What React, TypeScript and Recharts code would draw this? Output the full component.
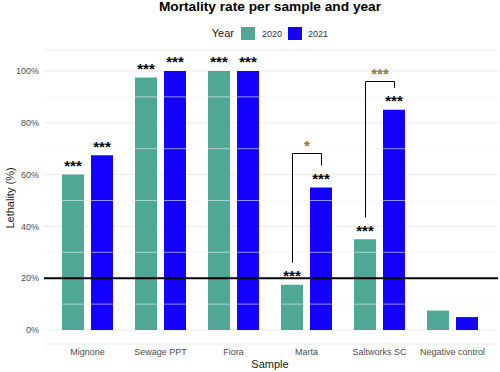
import React from "react"
import { BarChart, Bar, XAxis, YAxis, CartesianGrid, ReferenceLine, LabelList } from "recharts"

const samples = ["Mignone", "Sewage PPT", "Fiora", "Marta", "Saltworks SC", "Negative control"]
const rate2020 = [60, 97.5, 100, 17.5, 35, 7.5]
const rate2021 = [67.5, 100, 100, 55, 85, 5]
const sig2020 = ["***", "***", "***", "***", "***", ""]
const sig2021 = ["***", "***", "***", "***", "***", ""]
// comparison 2020 vs 2021 within a sample
const bracketSig = ["", "", "", "*", "***", ""]
const bracketTop: (number | null)[] = [null, null, null, 68.3, 96.1, null]
const yTicks = [0, 20, 40, 60, 80, 100]
const minorTicks = [10, 30, 50, 70, 90]

const GREEN = "#4fa896"
const BLUE = "#1400ff"
const GOLD = "#8f7a3a"
const BAR_SIZE = 22
const BAR_GAP = 7
const LEG_PAD = 8.5

const data = samples.map((s, i) => ({ sample: s, y2020: rate2020[i], y2021: rate2021[i] }))

function starLabel(stars: string[]) {
  return (props: any) => {
    const { x, y, width, index } = props
    const s = stars[index]
    if (!s) return null
    return (
      <text x={Number(x) + Number(width) / 2} y={Number(y) - 3.5} textAnchor="middle" fontSize={15} fontWeight="bold" fill="#000">
        {s}
      </text>
    )
  }
}

function BracketLabel(props: any) {
  const { index } = props
  const top = bracketTop[index]
  if (top == null) return null
  const x = Number(props.x)
  const y = Number(props.y)
  const width = Number(props.width)
  const height = Number(props.height)
  const base = y + height
  const k = height / rate2020[index]
  const py = (v: number) => base - v * k
  const x1 = Math.round(x + width / 2) + 0.5
  const x2 = Math.round(x + width + BAR_GAP + width / 2) + 0.5
  const yTop = Math.round(py(top)) + 0.5
  const d = `M${x1},${py(rate2020[index] + LEG_PAD)}V${yTop}H${x2}V${py(rate2021[index] + LEG_PAD)}`
  return (
    <g>
      <path d={d} fill="none" stroke="#000" strokeWidth={1} />
      <text x={(x1 + x2) / 2} y={yTop - 2.5} textAnchor="middle" fontSize={15} fontWeight="bold" fill={GOLD}>
        {bracketSig[index]}
      </text>
    </g>
  )
}

export default function App() {
  const font = "'Liberation Sans', Arial, sans-serif"
  return (
    <div style={{ position: "relative", width: 500, height: 372, fontFamily: font }}>
      <style>{`body{margin:0}`}</style>
      <BarChart
        width={500}
        height={372}
        data={data}
        margin={{ top: 50, right: 2, bottom: 0, left: 0 }}
        barSize={BAR_SIZE}
        barGap={BAR_GAP}
      >
        <CartesianGrid vertical={false} stroke="#e6e6e6" strokeWidth={0.8} />
        {minorTicks.map((t) => (
          <ReferenceLine key={t} y={t} stroke="#f2f2f2" strokeWidth={0.6} />
        ))}
        <XAxis
          dataKey="sample"
          axisLine={false}
          tickLine={false}
          tickSize={0}
          tickMargin={5}
          height={28}
          padding={{ left: 7, right: 9 }}
          tick={{ fontSize: 9, fill: "#4d4d4d", fontFamily: font }}
          interval={0}
        />
        <YAxis
          domain={[-5.4, 108.1]}
          ticks={yTicks}
          tickFormatter={(v: number) => `${v}%`}
          axisLine={false}
          tickLine={false}
          tickSize={0}
          tickMargin={5}
          width={44}
          tick={{ fontSize: 9, fill: "#4d4d4d", fontFamily: font }}
        />
        <ReferenceLine y={20} stroke="#000" strokeWidth={2} />
        <Bar dataKey="y2020" fill={GREEN} isAnimationActive={false}>
          <LabelList dataKey="y2020" content={starLabel(sig2020)} />
          <LabelList dataKey="y2020" content={BracketLabel} />
        </Bar>
        <Bar dataKey="y2021" fill={BLUE} isAnimationActive={false}>
          <LabelList dataKey="y2021" content={starLabel(sig2021)} />
        </Bar>
      </BarChart>
      <svg width={500} height={372} style={{ position: "absolute", left: 0, top: 0, pointerEvents: "none" }} fontFamily={font}>
        <text x={270} y={11} textAnchor="middle" fontSize={13.7} fontWeight="bold" fill="#000">
          Mortality rate per sample and year
        </text>
        <text x={234} y={37} textAnchor="end" fontSize={11} fill="#1a1a1a">Year</text>
        <rect x={241} y={27} width={14} height={13} fill={GREEN} />
        <text x={262} y={36.5} fontSize={9} fill="#333">2020</text>
        <rect x={288} y={27} width={14} height={13} fill={BLUE} />
        <text x={308} y={36.5} fontSize={9} fill="#333">2021</text>
        <text x={270} y={368} textAnchor="middle" fontSize={11} fill="#1a1a1a">Sample</text>
        <text transform="translate(14,198) rotate(-90)" textAnchor="middle" fontSize={11} fill="#1a1a1a">
          Lethality (%)
        </text>
      </svg>
    </div>
  )
}
